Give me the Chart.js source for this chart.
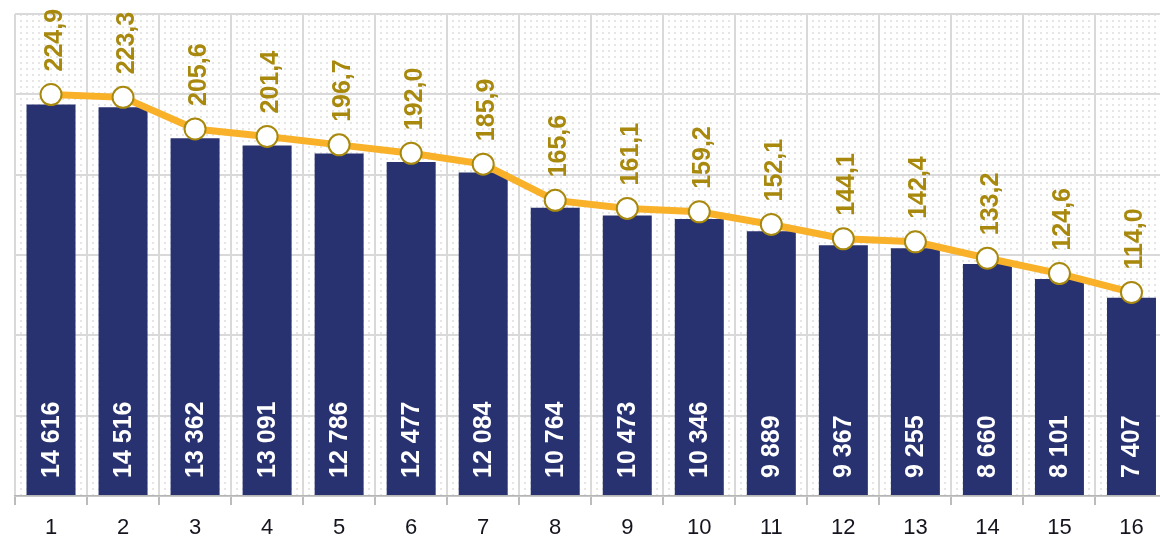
<!DOCTYPE html>
<html>
<head>
<meta charset="utf-8">
<script src="https://cdn.jsdelivr.net/npm/chart.js@4/dist/chart.umd.min.js"></script>
<style>
  html, body { margin: 0; padding: 0; background: #ffffff; overflow: hidden; }
  #wrap { width: 1180px; height: 541px; }
</style>
</head>
<body>
<div id="wrap"><canvas id="c" width="1180" height="541"></canvas></div>
<script>
const categories = ['1','2','3','4','5','6','7','8','9','10','11','12','13','14','15','16'];
const barValues = [14616, 14516, 13362, 13091, 12786, 12477, 12084, 10764, 10473, 10346, 9889, 9367, 9255, 8660, 8101, 7407];
const lineValues = [224.9, 223.3, 205.6, 201.4, 196.7, 192.0, 185.9, 165.6, 161.1, 159.2, 152.1, 144.1, 142.4, 133.2, 124.6, 114.0];
const barAxisTicks = [0, 3000, 6000, 9000, 12000, 15000, 18000];
const lineAxisRange = [0, 270];

const NAVY = '#283270';
const ORANGE = '#F9B12A';
const GOLD = '#A8890E';
const FONT = '"Liberation Sans", Arial, sans-serif';

function fmtBar(v) { return String(v).replace(/\B(?=(\d{3})+(?!\d))/g, ' '); }
function fmtLine(v) { return v.toFixed(1).replace('.', ','); }

const tile = document.createElement('canvas');
tile.width = 6; tile.height = 6;
const tctx = tile.getContext('2d');
tctx.fillStyle = '#ffffff'; tctx.fillRect(0, 0, 6, 6);
tctx.fillStyle = '#e6e6e6'; tctx.fillRect(2, 2, 2, 2);

const bgPlugin = {
  id: 'bgPattern',
  beforeDraw(chart) {
    const ctx = chart.ctx, a = chart.chartArea;
    ctx.save();
    ctx.fillStyle = '#ffffff';
    ctx.fillRect(0, 0, chart.width, chart.height);
    ctx.fillStyle = ctx.createPattern(tile, 'repeat');
    ctx.fillRect(a.left, a.top, a.right - a.left, a.bottom - a.top);
    ctx.restore();
  }
};

const labelPlugin = {
  id: 'labels',
  afterDatasetsDraw(chart) {
    const ctx = chart.ctx;
    const barMeta = chart.getDatasetMeta(1);
    const lineMeta = chart.getDatasetMeta(0);
    const bottom = chart.chartArea.bottom;
    ctx.save();
    ctx.textAlign = 'left';
    ctx.textBaseline = 'middle';
    ctx.font = 'bold 25px ' + FONT;
    ctx.fillStyle = '#ffffff';
    barMeta.data.forEach((el, i) => {
      ctx.save();
      ctx.translate(el.x + 1, bottom - 18);
      ctx.rotate(-Math.PI / 2);
      ctx.fillText(fmtBar(barValues[i]), 0, 0);
      ctx.restore();
    });
    ctx.fillStyle = GOLD;
    lineMeta.data.forEach((el, i) => {
      ctx.save();
      ctx.translate(el.x + 4, el.y - 23);
      ctx.rotate(-Math.PI / 2);
      ctx.fillText(fmtLine(lineValues[i]), 0, 0);
      ctx.restore();
    });
    ctx.restore();
  }
};

new Chart(document.getElementById('c'), {
  data: {
    labels: categories,
    datasets: [
      {
        type: 'line',
        data: lineValues,
        yAxisID: 'y2',
        borderColor: ORANGE,
        borderWidth: 7,
        pointRadius: 10.5,
        pointBackgroundColor: '#ffffff',
        pointBorderColor: GOLD,
        pointBorderWidth: 2,
        tension: 0,
        order: 0
      },
      {
        type: 'bar',
        data: barValues,
        yAxisID: 'y',
        backgroundColor: NAVY,
        barPercentage: 0.68,
        categoryPercentage: 1,
        order: 1
      }
    ]
  },
  options: {
    responsive: false,
    animation: false,
    devicePixelRatio: 1,
    layout: { padding: { left: 15, top: 14, right: 3, bottom: 0 } },
    plugins: { legend: { display: false }, tooltip: { enabled: false } },
    scales: {
      x: {
        offset: true,
        grid: { offset: true, color: '#d9d9d9', lineWidth: 2, drawTicks: true, tickLength: 9, tickColor: '#a6a6a6', tickWidth: 1.5 },
        border: { display: true, color: '#b5b5b5', width: 1.5 },
        ticks: { color: '#15151f', font: { family: FONT, size: 22 }, padding: 10, maxRotation: 0, autoSkip: false },
        afterFit(s) { s.height = 45; }
      },
      y: {
        position: 'left',
        min: barAxisTicks[0],
        max: barAxisTicks[barAxisTicks.length - 1],
        afterBuildTicks(s) { s.ticks = barAxisTicks.map(v => ({ value: v })); },
        grid: { color: '#d9d9d9', lineWidth: 2, drawTicks: false },
        border: { display: false },
        ticks: { display: false },
        afterFit(s) { s.width = 0; }
      },
      y2: {
        position: 'right',
        min: lineAxisRange[0],
        max: lineAxisRange[1],
        grid: { display: false, drawTicks: false },
        border: { display: false },
        ticks: { display: false },
        afterFit(s) { s.width = 0; }
      }
    }
  },
  plugins: [bgPlugin, labelPlugin]
});
</script>
</body>
</html>
